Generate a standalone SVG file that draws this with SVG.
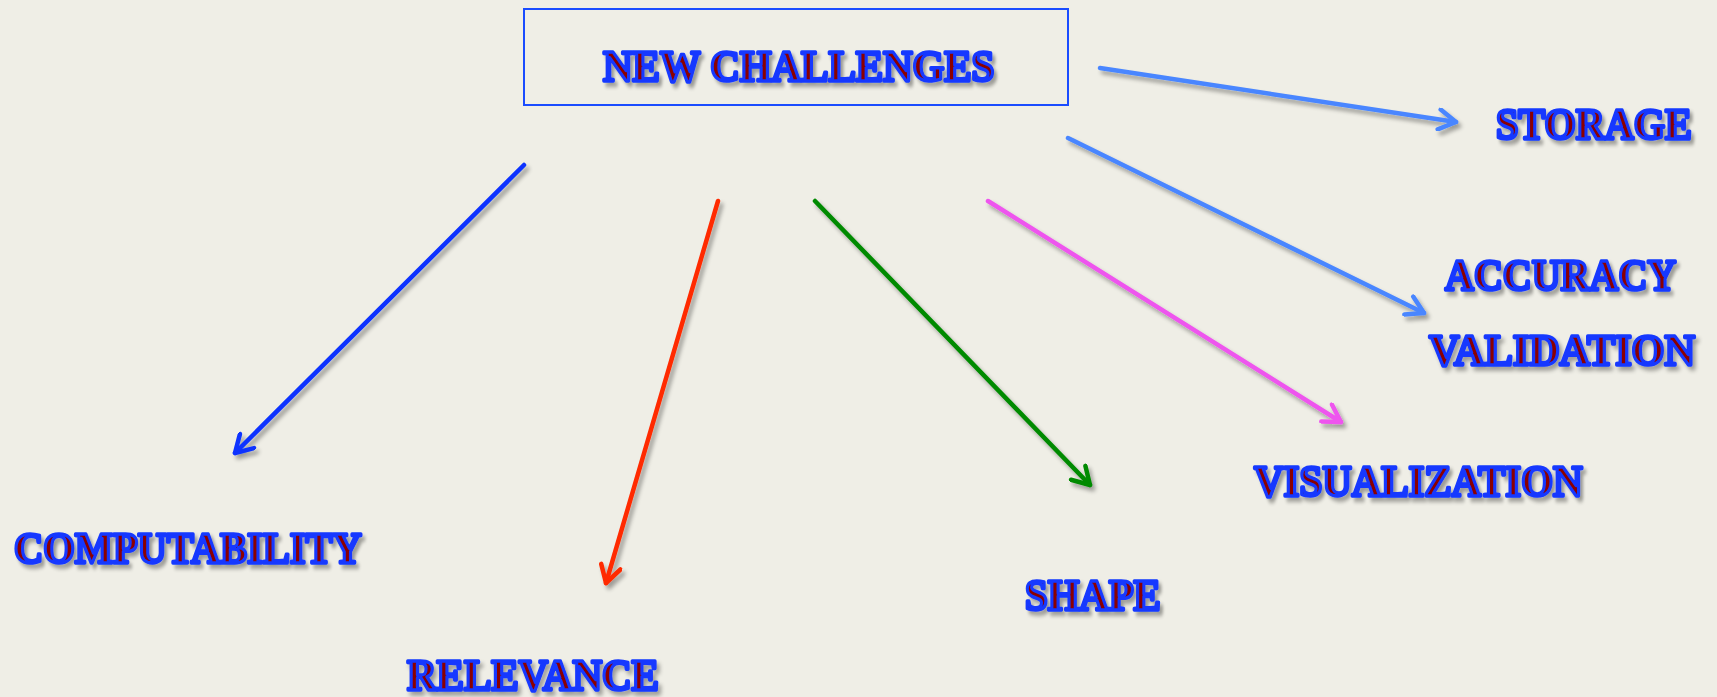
<svg xmlns="http://www.w3.org/2000/svg" width="1717" height="697" viewBox="0 0 1717 697">
<style>
.lbl{font-family:"Liberation Serif","Times New Roman",serif;font-weight:bold;font-size:44px;fill:#8b0000;stroke:#1438ff;stroke-width:3.4px;stroke-linejoin:round;filter:url(#sh)}
.arr{fill:none;stroke-width:4.5;stroke-linecap:round;filter:url(#sh)}
.hd{fill:none;stroke-width:4.5;stroke-linecap:round;stroke-linejoin:round}
</style>
<defs>
<filter id="sh" x="-10%" y="-20%" width="130%" height="160%">
<feGaussianBlur in="SourceAlpha" stdDeviation="2"/>
<feOffset dx="3" dy="4" result="b"/>
<feComponentTransfer><feFuncA type="linear" slope="0.35"/></feComponentTransfer>
<feMerge><feMergeNode/><feMergeNode in="SourceGraphic"/></feMerge>
</filter>
<marker id="mB" viewBox="-22 -12 26 24" refX="0" refY="0" markerWidth="26" markerHeight="24" markerUnits="userSpaceOnUse" orient="auto"><path class="hd" stroke="#0a33ff" d="M-17,-10 L0,0 L-17,10"/></marker>
<marker id="mR" viewBox="-22 -12 26 24" refX="0" refY="0" markerWidth="26" markerHeight="24" markerUnits="userSpaceOnUse" orient="auto"><path class="hd" stroke="#ff2a00" d="M-17,-10 L0,0 L-17,10"/></marker>
<marker id="mG" viewBox="-22 -12 26 24" refX="0" refY="0" markerWidth="26" markerHeight="24" markerUnits="userSpaceOnUse" orient="auto"><path class="hd" stroke="#008a00" d="M-17,-10 L0,0 L-17,10"/></marker>
<marker id="mM" viewBox="-22 -12 26 24" refX="0" refY="0" markerWidth="26" markerHeight="24" markerUnits="userSpaceOnUse" orient="auto"><path class="hd" stroke="#ee55ee" d="M-17,-10 L0,0 L-17,10"/></marker>
<marker id="mL" viewBox="-22 -12 26 24" refX="0" refY="0" markerWidth="26" markerHeight="24" markerUnits="userSpaceOnUse" orient="auto"><path class="hd" stroke="#4a86ff" d="M-17,-10 L0,0 L-17,10"/></marker>
</defs>
<rect width="1717" height="697" fill="#efeee6"/>
<g id="new-challenges">
<rect x="524" y="9" width="544" height="96" fill="none" stroke="#1a4cff" stroke-width="2"/>
<text class="lbl" transform="translate(603,81) scale(0.93,1)">NEW CHALLENGES</text>
</g>
<g id="storage"><text class="lbl" transform="translate(1496,139) scale(0.914,1)">STORAGE</text></g>
<g id="accuracy-validation">
<text class="lbl" transform="translate(1445,290) scale(0.91,1)">ACCURACY</text>
<text class="lbl" transform="translate(1429,365) scale(0.96,1)">VALIDATION</text>
</g>
<g id="visualization"><text class="lbl" transform="translate(1254,496) scale(0.929,1)">VISUALIZATION</text></g>
<g id="shape"><text class="lbl" transform="translate(1025,610) scale(0.925,1)">SHAPE</text></g>
<g id="computability"><text class="lbl" transform="translate(14,563) scale(0.92,1)">COMPUTABILITY</text></g>
<g id="relevance"><text class="lbl" transform="translate(407,690) scale(0.931,1)">RELEVANCE</text></g>
<g id="connectors">
<line class="arr" stroke="#0a33ff" x1="524" y1="165" x2="235" y2="453" marker-end="url(#mB)"/>
<line class="arr" stroke="#ff2a00" x1="718" y1="201" x2="606" y2="583" marker-end="url(#mR)"/>
<line class="arr" stroke="#008a00" x1="815" y1="201" x2="1090" y2="485" marker-end="url(#mG)"/>
<line class="arr" stroke="#ee55ee" x1="988" y1="201" x2="1341" y2="422" marker-end="url(#mM)"/>
<line class="arr" stroke="#4a86ff" x1="1068" y1="138" x2="1424" y2="313" marker-end="url(#mL)"/>
<line class="arr" stroke="#4a86ff" x1="1100" y1="68" x2="1456" y2="122" marker-end="url(#mL)"/>
</g>
</svg>
